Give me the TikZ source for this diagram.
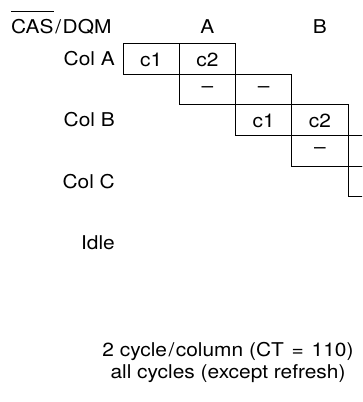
\documentclass[tikz,border=0pt]{standalone}
\usepackage{fontspec}
\setmainfont{TeX Gyre Heros}[FakeStretch=1.1]
\begin{document}
\begin{tikzpicture}[x=1pt,y=-1pt,
  lbl/.style={inner sep=0pt, font=\fontsize{19}{22}\selectfont},
  cell/.style={draw, line width=0.8pt, minimum width=56.25pt, minimum height=30.6pt,
    inner sep=0pt, text height=15pt, text depth=0pt, font=\fontsize{19}{22}\selectfont},
  dcell/.style={cell, text height=, text depth=}]
\useasboundingbox (0,0) rectangle (362,402);
\clip (0,0) rectangle (362,402);
% header
\node[lbl, anchor=base west] (cas) at (11,33) {CAS};
\node[lbl, anchor=base west] (dqm) at (cas.base east) {\kern1.5pt/\kern1.5pt DQM};
\draw[line width=1.3pt] ([yshift=7pt]cas.north west) -- ([yshift=7pt]cas.north east);
\node[lbl, anchor=base] (hA) at (207.4,33) {A};
\node[lbl, anchor=base] (hB) at (319.9,33) {B};
% row labels
\node[lbl, anchor=base east] (colA) at (115,65) {Col A};
\node[lbl, anchor=base east] (colB) at (115,126.5) {Col B};
\node[lbl, anchor=base east] (colC) at (115,188) {Col C};
\node[lbl, anchor=base east] (idle) at (115,249.5) {Idle};
% cells
\node[cell] (r1a) at (151.1,58.8) {c1};
\node[cell] (r1b) at (207.4,58.8) {c2};
\node[dcell] (r2a) at (207.4,89.4) {–};
\node[dcell] (r2b) at (263.6,89.4) {–};
\node[cell] (r3a) at (263.6,120) {c1};
\node[cell] (r3b) at (319.9,120) {c2};
\node[dcell] (r4a) at (319.9,150.6) {–};
\node[cell] (r4b) at (376.1,150.6) {};
\node[cell] (r5a) at (376.1,181.2) {};
% caption
\node[lbl, anchor=base] (cap1) at (228,356) {2 cycle\kern1.5pt/\kern1.5pt column (CT\kern2pt{} =\kern2pt{} 110)};
\node[lbl, anchor=base] (cap2) at (228,378) {all cycles (except refresh)};
\end{tikzpicture}
\end{document}
